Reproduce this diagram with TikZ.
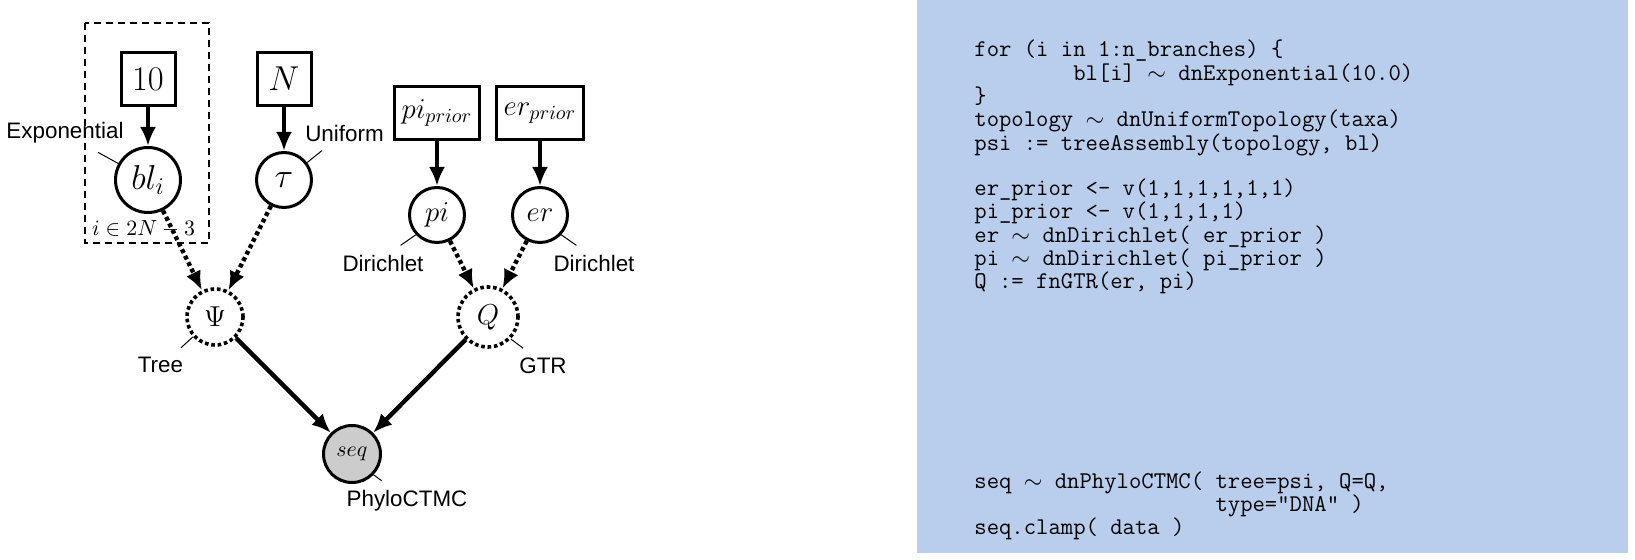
\documentclass[tikz,border=0pt]{standalone}
\usepackage{fontspec}
\setsansfont{Liberation Sans}
\usetikzlibrary{arrows.meta}
\definecolor{codeblau}{RGB}{184,206,236}

\begin{document}
\begin{tikzpicture}[x=0.5pt,y=-0.5pt,>={Latex[length=9.5pt,width=8pt]},
		box/.style={draw,line width=1.5pt,minimum width=27pt,minimum height=26.5pt,inner xsep=3.5pt,font=\fontsize{14.4}{17}\selectfont},
		zufall/.style={draw,circle,line width=1.5pt,minimum size=27.5pt,inner sep=1pt,font=\fontsize{14.4}{17}\selectfont},
		gross/.style={font=\fontsize{17.28}{20}\selectfont},
		determ/.style={zufall,line width=1.8pt,dash pattern=on 1.8pt off 1.4pt},
		beob/.style={zufall,fill=black!20,font=\fontsize{10.95}{13}\selectfont},
		lab/.style={inner sep=4.5pt,font=\sffamily\fontsize{11.2}{13}\selectfont},
		pinline/.style={line width=0.5pt},
		fest/.style={->,line width=2.2pt},
		gepunktet/.style={->,line width=2.2pt,dash pattern=on 2pt off 1.6pt},
		code/.style={anchor=base west,inner sep=0pt,align=left,font=\ttfamily\fontsize{12}{11.7}\selectfont,
			execute at begin node={\lineskiplimit=-20pt\lineskip=0pt}}]
		\useasboundingbox (0,0) rectangle (1635,560);
		%Hintergrund
		\fill[white] (0,0) rectangle (1635,560);
		\fill[codeblau] (917,0) rectangle (1628,553);
		%Platte
		\draw[line width=0.6pt,dash pattern=on 3.5pt off 2.5pt] (85,23) rectangle (209,243);
		\node[font=\fontsize{10.95}{13}\selectfont] (platte) at (143.5,229) {$i \in 2N - 3$};
		%Knoten
		\node[box,gross] (zehn) at (148,79) {$10$};
		\node[box,gross] (enn) at (284,79) {$N$};
		\node[box] (piprior) at (437,113) {$pi_{prior}$};
		\node[box] (erprior) at (540,113) {$er_{prior}$};
		\node[zufall,gross,minimum size=32.5pt] (bl) at (148,180) {$bl_i$};
		\node[zufall,gross] (tau) at (284,180) {$\tau$};
		\node[zufall] (pi) at (437,215) {$pi$};
		\node[zufall] (er) at (540,215) {$er$};
		\node[determ,minimum size=28pt] (psi) at (215,317) {$\Psi$};
		\node[determ,minimum size=30pt] (q) at (488,317) {$Q$};
		\node[beob,minimum size=28.5pt] (seq) at (352,454) {$seq$};
		%Beschriftungen
		\node[lab] (expo) at (65,132.5) {Exponential};
		\node[lab] (unif) at (344.5,133) {Uniform};
		\node[lab] (dirl) at (383,263) {Dirichlet};
		\node[lab] (dirr) at (594,263) {Dirichlet};
		\node[lab] (baum) at (160.5,365) {Tree};
		\node[lab] (gtr) at (543,365.5) {GTR};
		\node[lab] (phylo) at (407,500.5) {PhyloCTMC};
		\draw[pinline] (bl.151) -- (expo.329);
		\draw[pinline] (tau.37) -- (unif.218);
		\draw[pinline] (pi.223) -- (dirl.45);
		\draw[pinline] (er.317) -- (dirr.135);
		\draw[pinline] (psi.222) -- (baum.40);
		\draw[pinline] (q.316) -- (gtr.139);
		\draw[pinline] (seq.316) -- (phylo.142);
		%Pfeile
		\draw[fest] (zehn) -- (bl);
		\draw[fest] (enn) -- (tau);
		\draw[fest] (piprior) -- (pi);
		\draw[fest] (erprior) -- (er);
		\draw[gepunktet] (bl) -- (psi);
		\draw[gepunktet] (tau) -- (psi);
		\draw[gepunktet] (pi) -- (q);
		\draw[gepunktet] (er) -- (q);
		\draw[fest] (psi) -- (seq);
		\draw[fest] (q) -- (seq);
		%Code
		\node[code] (codeoben) at (974,289) {for (i in 1:n\_branches) \{\\
			\hphantom{12345678}bl[i] $\sim$ dnExponential(10.0)\\
			\}\\
			topology $\sim$ dnUniformTopology(taxa)\\
			psi := treeAssembly(topology, bl)\\[10.8pt]
			er\_prior <- v(1,1,1,1,1,1)\\
			pi\_prior <- v(1,1,1,1)\\
			er $\sim$ dnDirichlet( er\_prior )\\
			pi $\sim$ dnDirichlet( pi\_prior )\\
			Q := fnGTR(er, pi)};
		\node[code] (codeunten) at (974,535) {seq $\sim$ dnPhyloCTMC( tree=psi, Q=Q,\\
			\hphantom{seq $\sim$ dnPhyloCTMC( }type="DNA" )\\
			seq.clamp( data )};
	\end{tikzpicture}
\end{document}
